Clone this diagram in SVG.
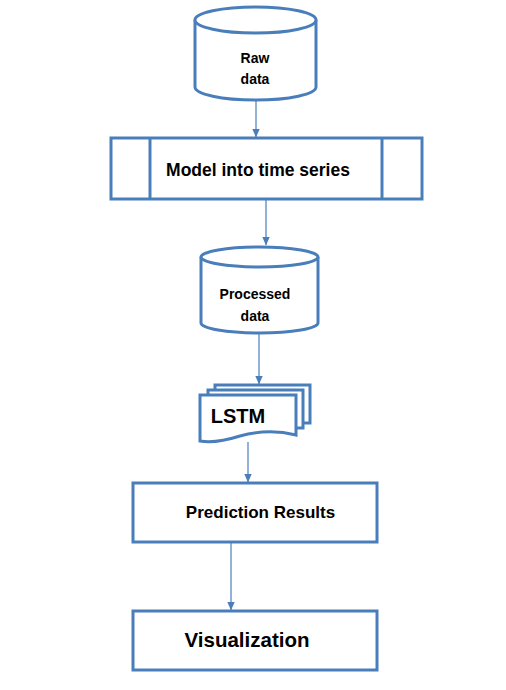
<svg xmlns="http://www.w3.org/2000/svg" width="506" height="690" viewBox="0 0 506 690">
<style>
.s{fill:#fff;stroke:#4a7ebb;stroke-width:3}
.c{fill:none;stroke:#4a7ebb;stroke-width:1.2}
.t{font-family:"Liberation Sans",Arial,sans-serif;font-weight:bold;fill:#000;text-anchor:middle}
</style>
<defs>
<marker id="ah" markerUnits="userSpaceOnUse" markerWidth="9" markerHeight="9" viewBox="0 0 9 9" refX="8" refY="4.5" orient="auto">
<path d="M0,0.8 L8.5,4.5 L0,8.2 Z" fill="#4a7ebb"/>
</marker>
</defs>
<rect width="506" height="690" fill="#fff"/>
<g id="connectors">
<line class="c" x1="256" y1="100" x2="256" y2="137" marker-end="url(#ah)"/>
<line class="c" x1="266" y1="199" x2="266" y2="245" marker-end="url(#ah)"/>
<line class="c" x1="259" y1="333" x2="259" y2="384" marker-end="url(#ah)"/>
<line class="c" x1="248" y1="442" x2="248" y2="482" marker-end="url(#ah)"/>
<line class="c" x1="231" y1="542" x2="231" y2="610" marker-end="url(#ah)"/>
</g>
<g id="raw-data">
<path class="s" d="M195,20 V87 A60.5,13 0 0 0 316,87 V20"/>
<ellipse class="s" cx="255.5" cy="20" rx="60.5" ry="13"/>
<text class="t" x="255" y="63" font-size="14">Raw</text>
<text class="t" x="255" y="84" font-size="14">data</text>
</g>
<g id="model-time-series">
<rect class="s" x="111" y="138" width="311" height="61"/>
<line class="s" x1="150" y1="138" x2="150" y2="199"/>
<line class="s" x1="382" y1="138" x2="382" y2="199"/>
<text class="t" x="258" y="176" font-size="17.5">Model into time series</text>
</g>
<g id="processed-data">
<path class="s" d="M201,257 V323 A58.5,10 0 0 0 318,323 V257"/>
<ellipse class="s" cx="259.5" cy="257" rx="58.5" ry="10"/>
<text class="t" x="255" y="299" font-size="14">Processed</text>
<text class="t" x="255" y="321" font-size="14">data</text>
</g>
<g id="lstm">
<rect class="s" x="215" y="385" width="95" height="38"/>
<rect class="s" x="208" y="390" width="95" height="38"/>
<path class="s" d="M200,395 H296 V435 C276,430 258,431 240,436 C224,441 212,443 200,441 Z"/>
<text class="t" x="238" y="423" font-size="20">LSTM</text>
</g>
<g id="prediction-results">
<rect class="s" x="133" y="483" width="244" height="59"/>
<text class="t" x="260.5" y="518" font-size="17">Prediction Results</text>
</g>
<g id="visualization">
<rect class="s" x="133" y="611" width="244" height="59"/>
<text class="t" x="247" y="647" font-size="20.5">Visualization</text>
</g>
</svg>
